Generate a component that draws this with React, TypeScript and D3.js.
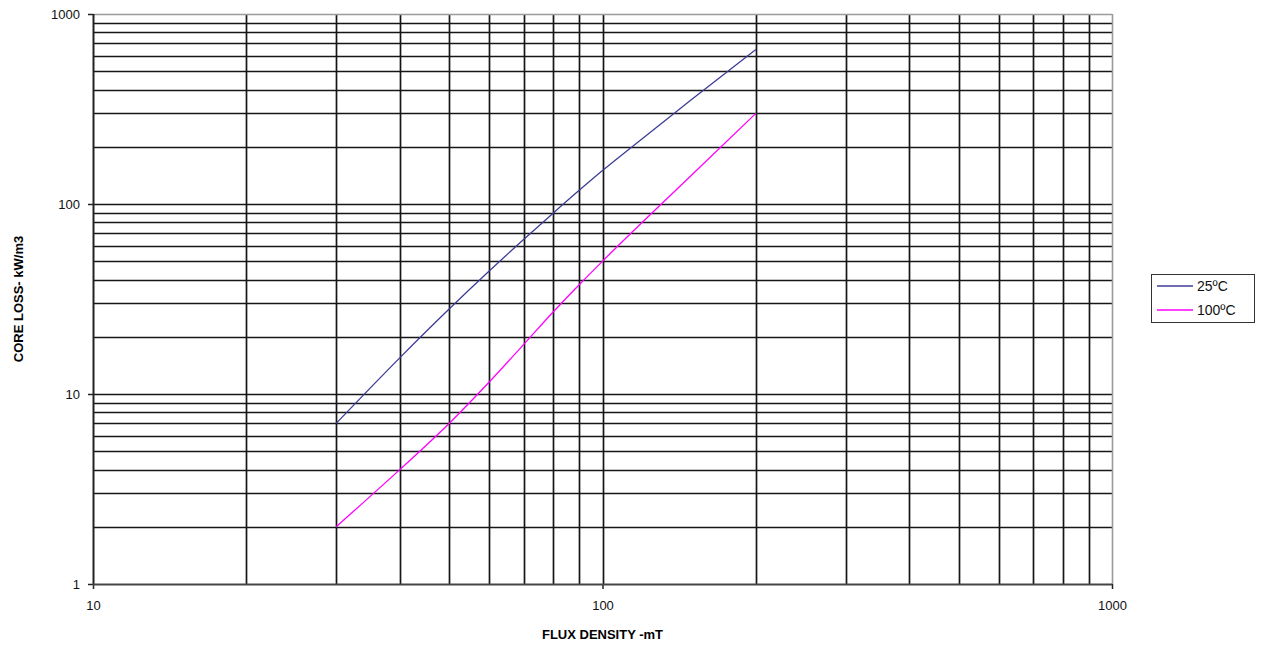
import React, { useRef, useEffect } from "react";
import * as d3 from "d3";

// flux density (mT)
const fluxBlue = [30, 40, 50, 60, 70, 80, 90, 100, 120, 150, 200];
const loss25 = [7, 15.5, 28, 44.5, 65, 89.5, 118, 150, 222, 357, 650];
const fluxPink = [30, 40, 50, 60, 70, 80, 90, 100, 150, 200];
const loss100 = [2, 4, 7, 11.6, 18.2, 27, 37.6, 50, 143, 300];

const xTicks = [10, 100, 1000];
const yTicks = [1, 10, 100, 1000];
const seriesNames = ["25ºC", "100ºC"];
const seriesColors = ["#3c3c96", "#ff00ff"];

const W = 1262;
const H = 647;

const App = () => {
  const svgRef = useRef<SVGSVGElement | null>(null);

  useEffect(() => {
    const svg = d3.select(svgRef.current);
    svg.selectAll("*").remove();

    const margin = { top: 14, right: 150, bottom: 63, left: 93 };
    const innerW = W - margin.left - margin.right;
    const innerH = H - margin.top - margin.bottom;

    const x = d3.scaleLog().domain([10, 1000]).range([0, innerW]);
    const y = d3.scaleLog().domain([1, 1000]).range([innerH, 0]);

    const g = svg
      .append("g")
      .attr("transform", `translate(${margin.left},${margin.top})`);

    // minor + major grid
    const gridX: number[] = [];
    const gridY: number[] = [];
    [10, 100].forEach((d) => {
      for (let k = 1; k <= 9; k++) gridX.push(d * k);
    });
    [1, 10, 100].forEach((d) => {
      for (let k = 1; k <= 9; k++) gridY.push(d * k);
    });

    g.selectAll(".gy")
      .data(gridY.filter((v) => v > 1))
      .enter()
      .append("line")
      .attr("x1", 0)
      .attr("x2", innerW)
      .attr("y1", (d) => Math.round(y(d)) + 0.5)
      .attr("y2", (d) => Math.round(y(d)) + 0.5)
      .attr("stroke", "#161616")
      .attr("stroke-width", 1.7);

    g.selectAll(".gx")
      .data(gridX.filter((v) => v > 10))
      .enter()
      .append("line")
      .attr("y1", 0)
      .attr("y2", innerH)
      .attr("x1", (d) => Math.round(x(d)) + 0.5)
      .attr("x2", (d) => Math.round(x(d)) + 0.5)
      .attr("stroke", "#161616")
      .attr("stroke-width", 1.7);

    // top and right border in grey
    g.append("line")
      .attr("x1", 0)
      .attr("x2", innerW)
      .attr("y1", 0.5)
      .attr("y2", 0.5)
      .attr("stroke", "#9a9a9a")
      .attr("stroke-width", 1.6);
    g.append("line")
      .attr("x1", innerW + 0.5)
      .attr("x2", innerW + 0.5)
      .attr("y1", 0)
      .attr("y2", innerH)
      .attr("stroke", "#9a9a9a")
      .attr("stroke-width", 1.6);

    // axes
    const yAxis = g
      .append("g")
      .call(
        d3
          .axisLeft(y)
          .tickValues(yTicks)
          .tickFormat(d3.format("d"))
          .tickSize(5)
          .tickPadding(8)
      );
    const xAxis = g
      .append("g")
      .attr("transform", `translate(0,${innerH})`)
      .call(
        d3
          .axisBottom(x)
          .tickValues(xTicks)
          .tickFormat(d3.format("d"))
          .tickSize(5)
          .tickPadding(12)
      );
    [xAxis, yAxis].forEach((a) => {
      a.select(".domain").remove();
      a.selectAll("line").attr("stroke", "#222").attr("stroke-width", 1.5);
      a.selectAll("text")
        .attr("font-family", "Liberation Sans, Arial, sans-serif")
        .attr("font-size", 13)
        .attr("fill", "#111");
    });

    g.append("line")
      .attr("x1", 0.5)
      .attr("x2", 0.5)
      .attr("y1", 0)
      .attr("y2", innerH)
      .attr("stroke", "#222")
      .attr("stroke-width", 2);
    g.append("line")
      .attr("x1", 0)
      .attr("x2", innerW)
      .attr("y1", innerH + 0.5)
      .attr("y2", innerH + 0.5)
      .attr("stroke", "#444")
      .attr("stroke-width", 2);

    // series
    const line = d3
      .line<[number, number]>()
      .x((d) => x(d[0]))
      .y((d) => y(d[1]))
      .curve(d3.curveMonotoneX);

    const series: [number, number][][] = [
      fluxBlue.map((f, i) => [f, loss25[i]]),
      fluxPink.map((f, i) => [f, loss100[i]]),
    ];

    series.forEach((s, i) => {
      g.append("path")
        .datum(s)
        .attr("d", line)
        .attr("fill", "none")
        .attr("stroke", seriesColors[i])
        .attr("stroke-width", 1.3);
    });

    // axis titles
    svg
      .append("text")
      .attr("x", margin.left + innerW / 2)
      .attr("y", 639)
      .attr("text-anchor", "middle")
      .attr("font-family", "Liberation Sans, Arial, sans-serif")
      .attr("font-weight", "bold")
      .attr("font-size", 13)
      .text("FLUX DENSITY -mT");

    svg
      .append("text")
      .attr("transform", `translate(23,${margin.top + innerH / 2}) rotate(-90)`)
      .attr("text-anchor", "middle")
      .attr("font-family", "Liberation Sans, Arial, sans-serif")
      .attr("font-weight", "bold")
      .attr("font-size", 13)
      .text("CORE LOSS- kW/m3");

    // legend
    const lg = svg.append("g").attr("transform", "translate(1151,274)");
    lg.append("rect")
      .attr("x", 0.5)
      .attr("y", 0.5)
      .attr("width", 103)
      .attr("height", 48)
      .attr("fill", "#fff")
      .attr("stroke", "#333")
      .attr("stroke-width", 1);
    seriesNames.forEach((name, i) => {
      const yy = 12 + i * 24;
      lg.append("line")
        .attr("x1", 6)
        .attr("x2", 42)
        .attr("y1", yy)
        .attr("y2", yy)
        .attr("stroke", seriesColors[i])
        .attr("stroke-width", 1.3);
      lg.append("text")
        .attr("x", 46)
        .attr("y", yy + 5)
        .attr("font-family", "Liberation Sans, Arial, sans-serif")
        .attr("font-size", 14)
        .attr("fill", "#111")
        .text(name);
    });
  }, []);

  return (
    <svg
      ref={svgRef}
      width={W}
      height={H}
      style={{ position: "absolute", left: 0, top: 0, background: "#fff" }}
    />
  );
};

export default App;
